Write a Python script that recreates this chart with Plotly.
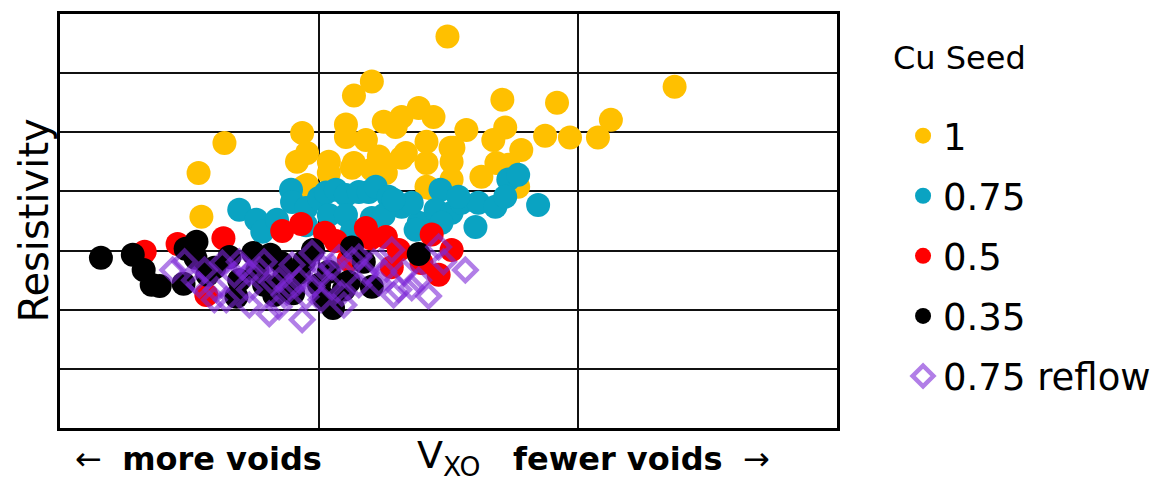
import plotly.graph_objects as go

# V_XO (arbitrary units, 0-30) and resistivity (arbitrary units, 0-7) per Cu seed thickness
seed_1_x = [14.96, 12.04, 11.35, 6.35, 5.35, 5.46, 9.35, 9.54, 9.15, 10.38, 10.38, 11.04, 11.04,
            11.81, 11.35, 12.31, 12.5, 12.96, 13.19, 13.85, 14.42, 13.19, 14.15, 14.15, 9.42,
            14.15, 15.08, 12.58, 23.73, 17.08, 19.19, 21.27, 20.77, 19.69, 18.73, 17.81, 17.19,
            16.73, 15.69, 15.19, 15.12, 15.12, 16.85, 13.35, 16.27, 14.23, 17.69, 9.54, 11.27,
            12.04, 12.5, 17.31]
seed_1_y = [6.62, 5.86, 5.62, 4.82, 4.31, 3.57, 4.99, 4.65, 4.50, 4.50, 4.31, 5.13, 4.92,
            4.87, 4.48, 4.59, 5.18, 5.09, 5.26, 5.41, 5.26, 4.57, 4.84, 4.48, 4.08,
            4.08, 4.74, 4.31, 5.77, 5.55, 5.50, 5.21, 4.91, 4.91, 4.94, 4.70, 5.08,
            4.87, 5.04, 4.74, 4.50, 4.20, 4.48, 4.65, 4.25, 4.06, 4.08, 4.11, 4.40,
            4.37, 4.48, 4.45]

seed_075_x = [6.92, 7.58, 7.81, 8.38, 8.92, 8.96, 9.5, 10.0, 10.27, 10.65, 11.04, 11.54, 11.92,
              12.04, 10.38, 11.04, 11.27, 9.5, 12.19, 12.69, 13.19, 13.85, 13.58, 14.69, 14.5,
              15.12, 15.5, 16.04, 16.15, 16.81, 17.31, 17.69, 18.46, 15.38, 17.19, 13.73, 14.73,
              12.5, 12.88]
seed_075_y = [3.69, 3.52, 3.32, 3.52, 4.03, 3.82, 3.72, 3.89, 3.98, 4.03, 3.94, 3.99, 3.99,
              3.55, 3.60, 3.60, 3.32, 3.43, 4.08, 3.91, 3.74, 3.47, 3.81, 4.03, 3.69,
              3.64, 3.81, 3.40, 3.81, 3.74, 4.20, 4.28, 3.77, 3.91, 3.91, 3.35, 3.47,
              3.60, 3.86]

seed_05_x = [3.27, 4.54, 6.31, 5.65, 8.58, 9.31, 10.23, 10.65, 11.81, 12.0, 12.58, 14.35, 15.12,
             14.62, 13.08, 13.96, 12.81, 11.15, 9.23]
seed_05_y = [2.98, 3.11, 3.21, 2.25, 3.33, 3.45, 3.30, 3.16, 3.38, 3.21, 3.23, 3.27, 3.01,
             2.59, 3.01, 2.79, 2.72, 2.84, 2.67]

seed_035_x = [1.58, 2.81, 3.23, 3.54, 3.85, 4.85, 5.27, 5.23, 4.77, 6.54, 7.46, 8.12, 8.54,
              9.77, 10.54, 11.27, 12.04, 13.85, 6.81, 9.0, 9.23, 10.0, 10.96, 7.88,
              5.96, 6.92, 7.62, 8.65, 9.42, 10.38, 11.15, 10.19, 5.69, 11.73, 8.27]
seed_035_y = [2.88, 2.93, 2.67, 2.42, 2.40, 3.03, 3.15, 2.88, 2.44, 2.89, 2.96, 2.93, 2.79,
              3.01, 2.03, 3.05, 2.39, 2.94, 2.22, 2.28, 2.62, 2.42, 2.34, 2.42,
              2.71, 2.50, 2.67, 2.54, 2.81, 2.64, 2.47, 2.20, 2.59, 2.81, 2.25]

reflow_x = [4.35, 5.19, 6.04, 6.42, 6.27, 7.04, 7.31, 8.08, 7.69, 8.46, 8.96, 9.35, 9.73, 9.73,
            10.5, 10.88, 11.27, 11.81, 12.31, 12.81, 13.08, 13.58, 14.23, 14.62, 15.65, 8.85,
            9.5, 8.19, 10.12, 11.54, 10.5, 7.31, 5.58,
            4.81, 5.38, 6.73, 7.31, 7.88, 8.65, 9.23, 10.0, 10.08, 10.77, 10.96, 11.54, 12.12,
            12.5, 13.27, 13.85, 14.81, 12.88, 8.46, 5.96, 6.92]
reflow_y = [2.67, 2.50, 2.34, 2.17, 2.79, 2.72, 2.08, 1.93, 2.67, 2.50, 2.76, 1.83, 2.96, 2.39,
            2.72, 2.28, 2.84, 2.62, 2.45, 3.01, 2.34, 2.37, 2.23, 3.06, 2.67, 2.39,
            2.22, 2.47, 2.72, 2.89, 2.39, 2.62, 2.67,
            2.81, 2.42, 2.59, 2.34, 2.81, 2.25, 2.50, 2.59, 2.17, 2.88, 2.08, 2.42, 2.81,
            2.64, 2.64, 2.50, 2.81, 2.25, 2.05, 2.17, 2.81]

series = [
    ("1", seed_1_x, seed_1_y, "#FFC000"),
    ("0.75", seed_075_x, seed_075_y, "#0AA3C2"),
    ("0.5", seed_05_x, seed_05_y, "#FF0000"),
    ("0.35", seed_035_x, seed_035_y, "#000000"),
]

FONT = "DejaVu Sans, Liberation Sans, sans-serif"
REFLOW = "rgba(125,40,215,0.6)"

fig = go.Figure()
for i, (name, xs, ys, color) in enumerate(series):
    fig.add_trace(go.Scatter(
        x=xs, y=ys, mode="markers", name=name, legendgroup=f"g{i}",
        marker=dict(symbol="circle", size=24, color=color, line=dict(width=0)),
    ))

fig.add_trace(go.Scatter(
    x=reflow_x, y=reflow_y, mode="markers", name="0.75 reflow", legendgroup="g4",
    marker=dict(symbol="diamond-open", size=17, color=REFLOW,
                line=dict(width=4.5, color=REFLOW)),
))

axis_common = dict(
    showticklabels=False, ticks="", zeroline=False,
    showline=True, mirror=True, linecolor="black", linewidth=3,
    showgrid=True, gridcolor="#111111", gridwidth=1.5,
)

fig.update_xaxes(range=[0, 30], dtick=10, tick0=0, **axis_common)
fig.update_yaxes(range=[0, 7], dtick=1, tick0=0, **axis_common)

fig.update_layout(
    width=1168, height=485,
    margin=dict(l=60, r=329, t=14, b=57),
    paper_bgcolor="white", plot_bgcolor="white",
    font=dict(family=FONT, color="black"),
    showlegend=True,
    legend=dict(
        x=1.085, y=0.78, xanchor="left", yanchor="top",
        font=dict(size=37, family=FONT),
        tracegroupgap=9, itemsizing="trace",
        bgcolor="rgba(0,0,0,0)",
    ),
    annotations=[
        dict(text="Cu Seed", x=(893 - 60) / 779, y=(428 - 58) / 414, xref="paper", yref="paper",
             showarrow=False, xanchor="left", yanchor="middle",
             font=dict(size=32, family=FONT)),
        dict(text="Resistivity", x=-0.034, y=0.5, xref="paper", yref="paper",
             textangle=-90, showarrow=False, xanchor="center", yanchor="middle",
             font=dict(size=40, family=FONT)),
        dict(text="\u2190  <b>more voids</b>", x=(199 - 60) / 779, y=-0.075,
             xref="paper", yref="paper", showarrow=False, xanchor="center", yanchor="middle",
             font=dict(size=32, family=FONT)),
        dict(text="V<sub>XO</sub>", x=(450 - 60) / 779, y=-0.072, xref="paper", yref="paper",
             showarrow=False, xanchor="center", yanchor="middle",
             font=dict(size=38, family=FONT)),
        dict(text="<b>fewer voids</b>  \u2192", x=(643 - 60) / 779, y=-0.075,
             xref="paper", yref="paper", showarrow=False, xanchor="center", yanchor="middle",
             font=dict(size=32, family=FONT)),
    ],
)

fig.write_html("out.html")
